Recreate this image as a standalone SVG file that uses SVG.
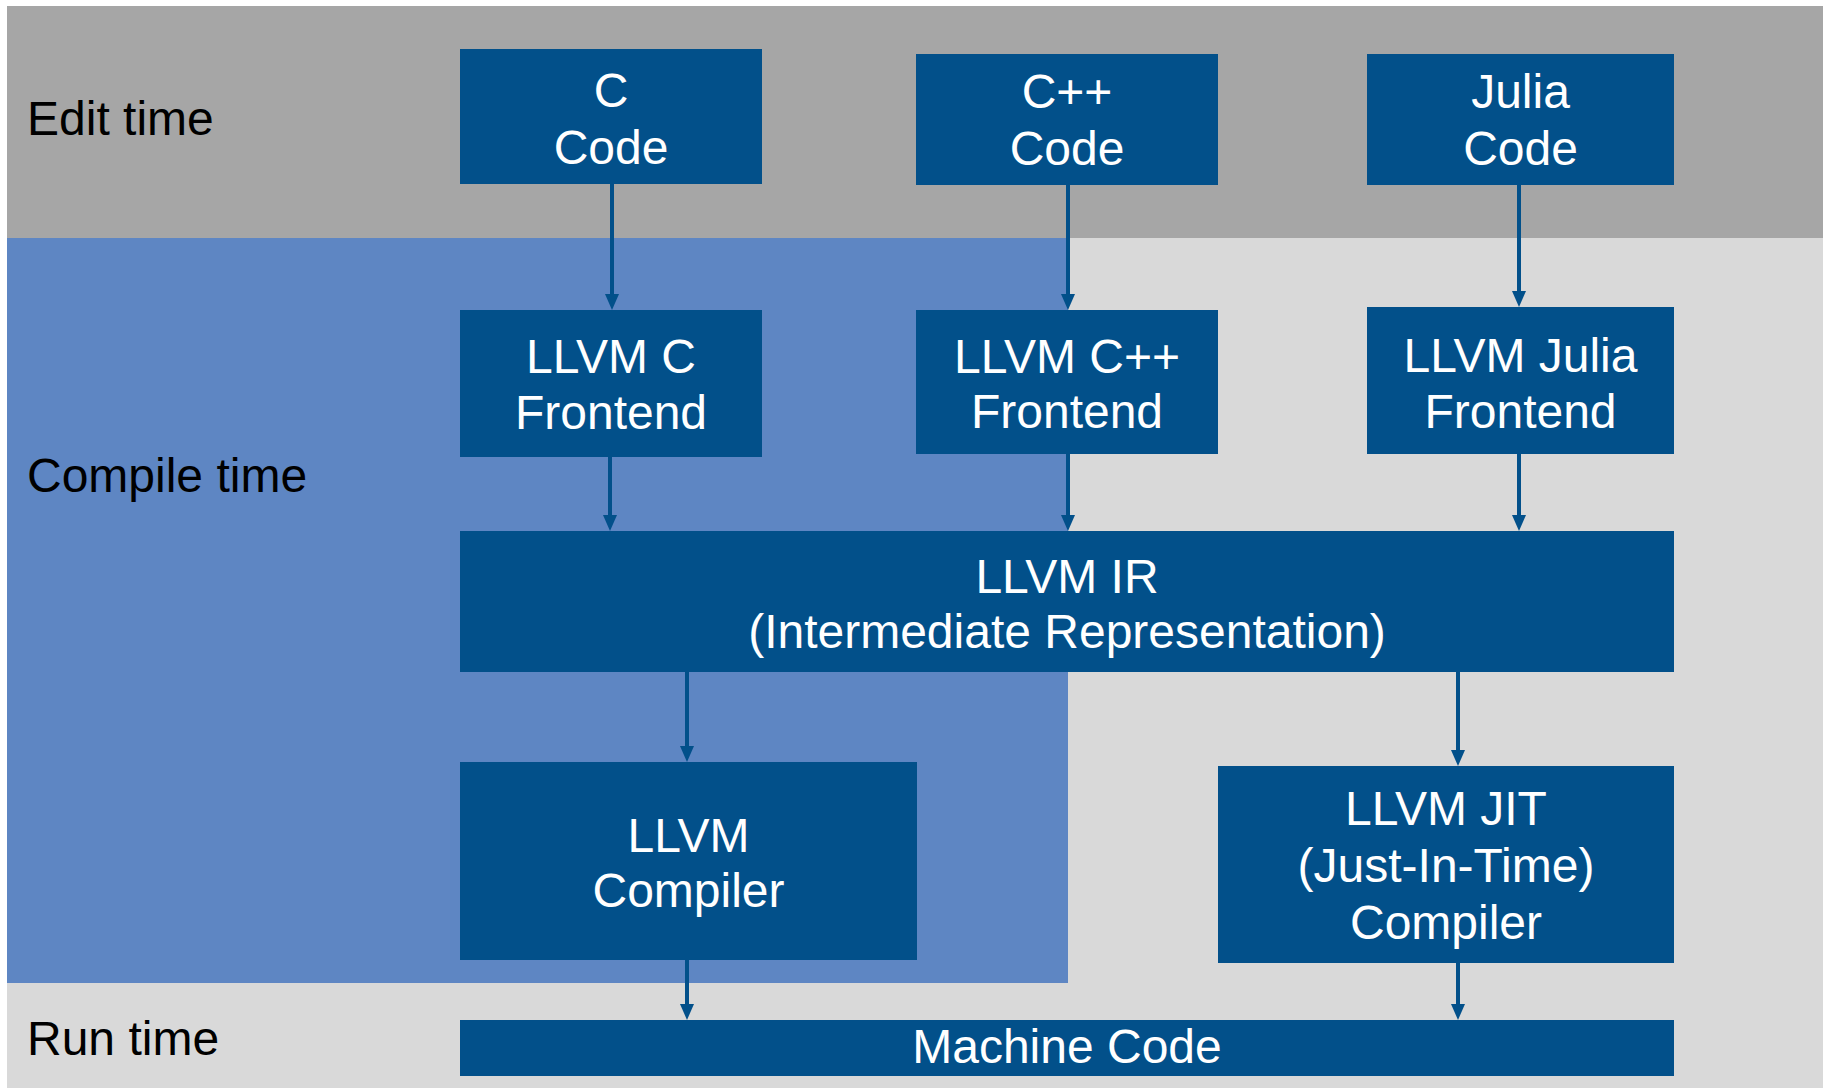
<svg xmlns="http://www.w3.org/2000/svg" width="1823" height="1088" viewBox="0 0 1823 1088">
  <style>
    .band-edit { fill: #A6A6A6; }
    .band-rest { fill: #D9D9D9; }
    .band-aot { fill: #5E86C3; }
    .node rect { fill: #02508A; }
    .node text { fill: #FFFFFF; font-family: "Liberation Sans", Arial, sans-serif; font-size: 48px; text-anchor: middle; }
    .phase { fill: #000000; font-family: "Liberation Sans", Arial, sans-serif; font-size: 48px; }
    .edge { stroke: #02508A; stroke-width: 4; fill: none; marker-end: url(#arrow); }
  </style>
  <defs>
    <marker id="arrow" markerUnits="userSpaceOnUse" markerWidth="16" markerHeight="14" viewBox="0 0 16 14" refX="10" refY="7" orient="auto">
      <path d="M0,0 L16,7 L0,14 z" fill="#02508A"/>
    </marker>
  </defs>

  <rect width="1823" height="1088" fill="#FFFFFF"/>

  <!-- phase bands -->
  <g id="bands">
    <rect class="band-rest" x="7" y="238" width="1816" height="850"/>
    <rect class="band-edit" x="7" y="6" width="1816" height="232"/>
    <rect class="band-aot" x="7" y="238" width="1061" height="745"/>
  </g>

  <g id="phase-labels">
    <text class="phase" x="27" y="135">Edit time</text>
    <text class="phase" x="27" y="492">Compile time</text>
    <text class="phase" x="27" y="1055">Run time</text>
  </g>

  <!-- connectors -->
  <g id="connectors">
    <line class="edge" x1="612" y1="184" x2="612" y2="304"/>
    <line class="edge" x1="1068" y1="185" x2="1068" y2="304"/>
    <line class="edge" x1="1519" y1="185" x2="1519" y2="301"/>
    <line class="edge" x1="610" y1="457" x2="610" y2="525"/>
    <line class="edge" x1="1068" y1="454" x2="1068" y2="525"/>
    <line class="edge" x1="1519" y1="454" x2="1519" y2="525"/>
    <line class="edge" x1="687" y1="672" x2="687" y2="756"/>
    <line class="edge" x1="1458" y1="672" x2="1458" y2="760"/>
    <line class="edge" x1="687" y1="960" x2="687" y2="1014"/>
    <line class="edge" x1="1458" y1="963" x2="1458" y2="1014"/>
  </g>

  <!-- nodes -->
  <g id="c-code" class="node">
    <rect x="460" y="49" width="302" height="135"/>
    <text x="611" y="107">C</text>
    <text x="611" y="164">Code</text>
  </g>
  <g id="cpp-code" class="node">
    <rect x="916" y="54" width="302" height="131"/>
    <text x="1067" y="108">C++</text>
    <text x="1067" y="165">Code</text>
  </g>
  <g id="julia-code" class="node">
    <rect x="1367" y="54" width="307" height="131"/>
    <text x="1520.5" y="108">Julia</text>
    <text x="1520.5" y="165">Code</text>
  </g>
  <g id="c-frontend" class="node">
    <rect x="460" y="310" width="302" height="147"/>
    <text x="611" y="373">LLVM C</text>
    <text x="611" y="429">Frontend</text>
  </g>
  <g id="cpp-frontend" class="node">
    <rect x="916" y="310" width="302" height="144"/>
    <text x="1067" y="373">LLVM C++</text>
    <text x="1067" y="428">Frontend</text>
  </g>
  <g id="julia-frontend" class="node">
    <rect x="1367" y="307" width="307" height="147"/>
    <text x="1520.5" y="372">LLVM Julia</text>
    <text x="1520.5" y="428">Frontend</text>
  </g>
  <g id="llvm-ir" class="node">
    <rect x="460" y="531" width="1214" height="141"/>
    <text x="1067" y="593">LLVM IR</text>
    <text x="1067" y="648">(Intermediate Representation)</text>
  </g>
  <g id="llvm-compiler" class="node">
    <rect x="460" y="762" width="457" height="198"/>
    <text x="688.5" y="852">LLVM</text>
    <text x="688.5" y="907">Compiler</text>
  </g>
  <g id="llvm-jit" class="node">
    <rect x="1218" y="766" width="456" height="197"/>
    <text x="1446" y="825">LLVM JIT</text>
    <text x="1446" y="882">(Just-In-Time)</text>
    <text x="1446" y="939">Compiler</text>
  </g>
  <g id="machine-code" class="node">
    <rect x="460" y="1020" width="1214" height="56"/>
    <text x="1067" y="1063">Machine Code</text>
  </g>
</svg>
